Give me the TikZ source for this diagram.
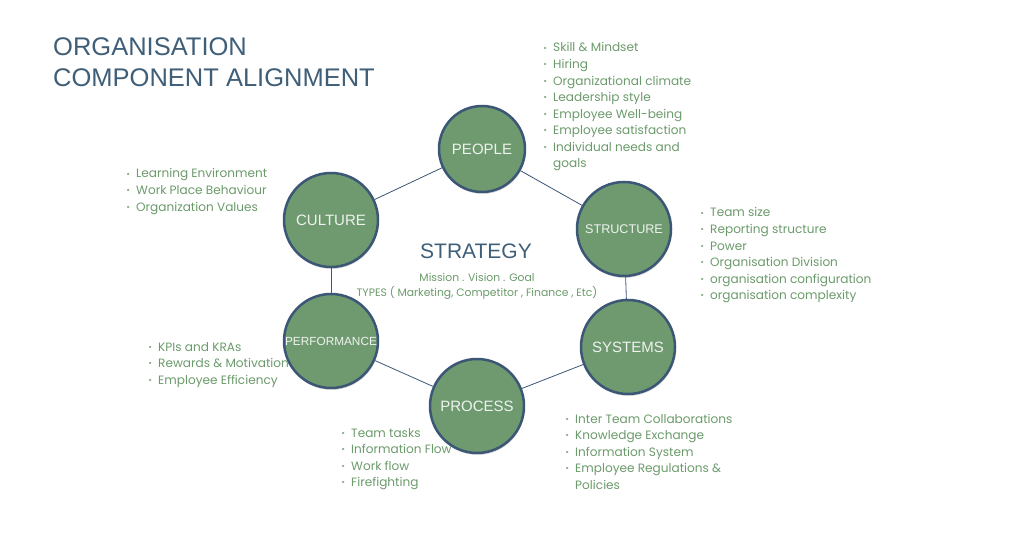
\documentclass[tikz,border=0pt]{standalone}
\usepackage{fontspec}
\setmainfont{Liberation Sans}
\newfontfamily\pop{Poppins}
\usetikzlibrary{shadows}
\definecolor{gtext}{HTML}{6B9A6B}
\definecolor{cfill}{HTML}{6F9A70}
\definecolor{cedge}{HTML}{3C5676}
\definecolor{ttl}{HTML}{3F5E78}
\definecolor{ctext}{HTML}{EEF3EE}
\tikzset{
  comp/.style={circle, draw=cedge, line width=2.5pt, fill=cfill, minimum size=94pt, inner sep=0pt,
    text=ctext, font=\fontsize{15}{15}\selectfont,
    drop shadow={opacity=0.25, shadow xshift=0.8pt, shadow yshift=-2pt}},
  link/.style={draw=cedge, line width=0.8pt},
  li/.style={anchor=base west, inner sep=0pt, text=gtext, font=\pop\fontsize{12.1}{14}\selectfont},
  ttlstyle/.style={anchor=base west, inner sep=0pt, text=ttl, font=\fontsize{25.5}{26}\selectfont},
  sub/.style={anchor=base, inner sep=0pt, text=gtext, font=\pop\fontsize{10.8}{12}\selectfont}
}
\newcommand{\bl}[1]{\llap{\textcolor{gtext!80}{\raisebox{0.9pt}{\scalebox{0.75}{•}}}\hspace{6pt}}#1}
\begin{document}
\begin{tikzpicture}[x=1pt,y=-1pt]
\useasboundingbox (0,0) rectangle (1024,534);
% title
\node[ttlstyle] (t1) at (53,56) {ORGANISATION};
\node[ttlstyle] (t2) at (53,87) {COMPONENT ALIGNMENT};
% circles
\node[comp, minimum size=86pt] (people) at (482,149) {PEOPLE};
\node[comp] (culture) at (331,220) {CULTURE};
\node[comp, font=\fontsize{12.6}{13}\selectfont] (structure) at (624,229) {STRUCTURE};
\node[comp, font=\fontsize{11.8}{12}\selectfont] (performance) at (331,341) {PERFORMANCE};
\node[comp] (systems) at (628,347) {SYSTEMS};
\node[comp] (process) at (477,406) {PROCESS};
% links
\path[link] (people) -- (culture);
\path[link] (people) -- (structure);
\path[link] (structure) -- (systems);
\path[link] (systems) -- (process);
\path[link] (process) -- (performance);
\path[link] (performance) -- (culture);
% strategy
\node[anchor=base, inner sep=0pt, text=ttl, font=\fontsize{21}{22}\selectfont] (strat) at (476,259) {STRATEGY};
\node[sub] (mvg) at (477,281) {Mission . Vision . Goal};
\node[sub] (types) at (477,296) {TYPES ( Marketing, Competitor , Finance , Etc)};
% people list
\foreach [count=\i] \t in {{Skill \& Mindset},{Hiring},{Organizational climate},{Leadership style},{Employee Well-being},{Employee satisfaction},{Individual needs and}}
  \node[li] (pl\i) at (553,52+16.55*\i-16.55) {\bl{\t}};
\node[li] (pl8) at (553,52+16.55*7) {goals};
% culture list
\foreach [count=\i] \t in {{Learning Environment},{Work Place Behaviour},{Organization Values}}
  \node[li] (cl\i) at (136,178+16.55*\i-16.55) {\bl{\t}};
% structure list
\foreach [count=\i] \t in {{Team size},{Reporting structure},{Power},{Organisation Division},{organisation configuration},{organisation complexity}}
  \node[li] (sl\i) at (710,217+16.55*\i-16.55) {\bl{\t}};
% performance list
\foreach [count=\i] \t in {{KPIs and KRAs},{Rewards \& Motivation},{Employee Efficiency}}
  \node[li] (fl\i) at (158,351+16.55*\i-16.55) {\bl{\t}};
% process list
\foreach [count=\i] \t in {{Team tasks},{Information Flow},{Work flow},{Firefighting}}
  \node[li] (rl\i) at (351,437+16.55*\i-16.55) {\bl{\t}};
% systems list
\foreach [count=\i] \t in {{Inter Team Collaborations},{Knowledge Exchange},{Information System},{Employee Regulations \&}}
  \node[li] (yl\i) at (575,423+16.55*\i-16.55) {\bl{\t}};
\node[li] (yl5) at (575,423+16.55*4) {Policies};
\end{tikzpicture}
\end{document}
